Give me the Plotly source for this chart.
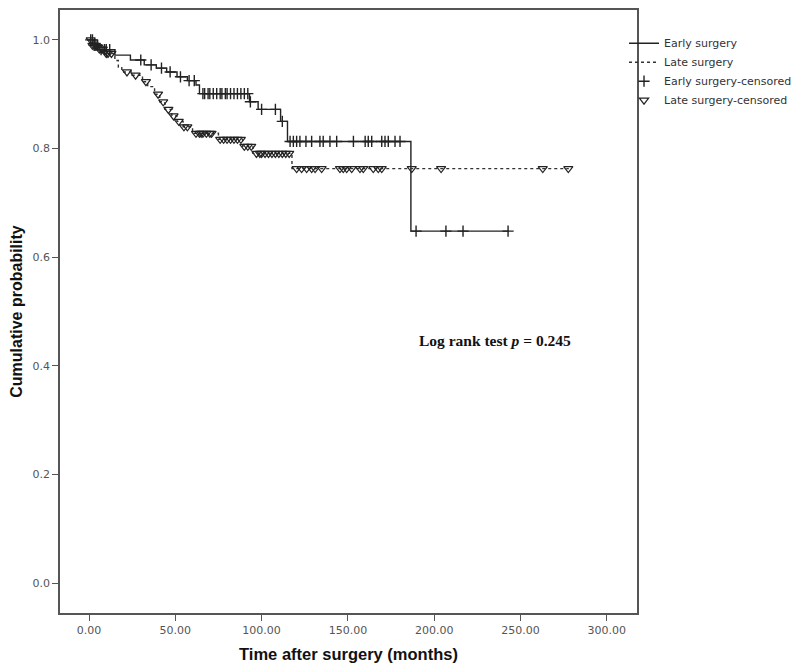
import plotly.graph_objects as go

# Kaplan-Meier step data (time in months, cumulative probability after step)
early_times = [0, 3, 6, 15, 24, 32, 39, 45, 51, 57, 62, 64, 93, 98, 111, 115, 186.5, 243]
early_surv = [1.0, 0.99, 0.982, 0.972, 0.963, 0.954, 0.948, 0.941, 0.932, 0.925, 0.917, 0.901,
              0.886, 0.872, 0.85, 0.813, 0.648, 0.648]

late_times = [0, 2, 5, 9, 15, 17, 19, 25, 31, 34, 38, 41, 44, 48, 51, 54.5, 60, 75, 89, 95, 117.6, 278]
late_surv = [1.0, 0.99, 0.983, 0.975, 0.962, 0.95, 0.941, 0.935, 0.923, 0.914, 0.90, 0.886,
             0.872, 0.86, 0.85, 0.84, 0.828, 0.817, 0.804, 0.791, 0.763, 0.763]

early_censor = [1, 2, 3, 4, 5, 7, 9, 10, 12, 30, 36, 42, 47, 53, 58, 61, 66, 67, 69, 70, 72, 74,
                76, 77, 79, 80, 82, 84, 86, 88, 90, 92, 93.5, 100, 108, 112, 116.5, 118.4, 120.3,
                122.2, 125.7, 129, 133.8, 135.7, 139.6, 143.5, 153.2, 160, 161.8, 163.8, 169.6,
                171.5, 173.4, 177.3, 180.2, 189.5, 206.8, 216.7, 242.8]
late_censor = [1, 2, 3, 4, 6, 7, 8, 10, 11, 13, 22, 27, 33, 40, 43, 46, 49, 52, 55, 57, 62, 64, 65,
               66, 68, 70, 71, 76, 78, 80, 82, 84, 86, 88, 90, 92, 94, 97, 99, 100, 102, 104, 106,
               108, 110, 112, 114, 116, 120.3, 123.2, 126.1, 129, 131, 134.8, 145.4, 147.3, 149.3,
               152.2, 157, 158.9, 164.7, 167.6, 169.6, 187, 204, 262.9, 277.7]

x_ticks = [0, 50, 100, 150, 200, 250, 300]
y_ticks = [0.0, 0.2, 0.4, 0.6, 0.8, 1.0]


def surv_at(times, surv, t):
    v = surv[0]
    for ti, si in zip(times, surv):
        if ti <= t:
            v = si
    return v


fig = go.Figure()
fig.add_trace(go.Scatter(x=early_times, y=early_surv, mode="lines", line_shape="hv",
                         line=dict(color="#222222", width=1.4), name="Early surgery"))
fig.add_trace(go.Scatter(x=late_times, y=late_surv, mode="lines", line_shape="hv",
                         line=dict(color="#333333", width=1.4, dash="3px,3px"), name="Late surgery"))
fig.add_trace(go.Scatter(x=early_censor, y=[surv_at(early_times, early_surv, t) for t in early_censor],
                         mode="markers", name="Early surgery-censored",
                         marker=dict(symbol="cross-thin", size=8, line=dict(color="#222222", width=1.4))))
fig.add_trace(go.Scatter(x=late_censor, y=[surv_at(late_times, late_surv, t) for t in late_censor],
                         mode="markers", name="Late surgery-censored",
                         marker=dict(symbol="triangle-down-open", size=8, color="#222222",
                                     line=dict(color="#222222", width=1.2))))

fig.add_annotation(x=235, y=0.446, xref="x", yref="y", showarrow=False,
                   text="<b>Log rank test <i>p</i> = 0.245</b>",
                   font=dict(family="Liberation Serif", size=15.5, color="#111111"))

axis_common = dict(showline=True, linecolor="#555555", linewidth=1.6, mirror=True,
                   ticks="outside", ticklen=6, tickwidth=1.3, tickcolor="#555555",
                   showgrid=False, zeroline=False,
                   tickfont=dict(family="DejaVu Sans", size=11, color="#555555"))

fig.update_xaxes(range=[-16.8, 317.5], tickvals=x_ticks, tickformat=".2f",
                 title=dict(text="<b>Time after surgery (months)</b>", standoff=12,
                            font=dict(family="Liberation Sans", size=16.5, color="#111111")),
                 **axis_common)
fig.update_yaxes(range=[-0.055, 1.055], tickvals=y_ticks, tickformat=".1f",
                 title=dict(text="<b>Cumulative probability</b>", standoff=8,
                            font=dict(family="Liberation Sans", size=16, color="#111111")),
                 **axis_common)

fig.update_layout(
    width=792, height=661,
    margin=dict(l=52, r=163, t=0, b=56),
    plot_bgcolor="white", paper_bgcolor="white",
    showlegend=True,
    legend=dict(x=0.9775, y=0.969, xanchor="left", yanchor="top",
                font=dict(family="DejaVu Sans", size=11, color="#333333"),
                bgcolor="rgba(0,0,0,0)", itemwidth=30),
)

fig.write_html("out.html")
